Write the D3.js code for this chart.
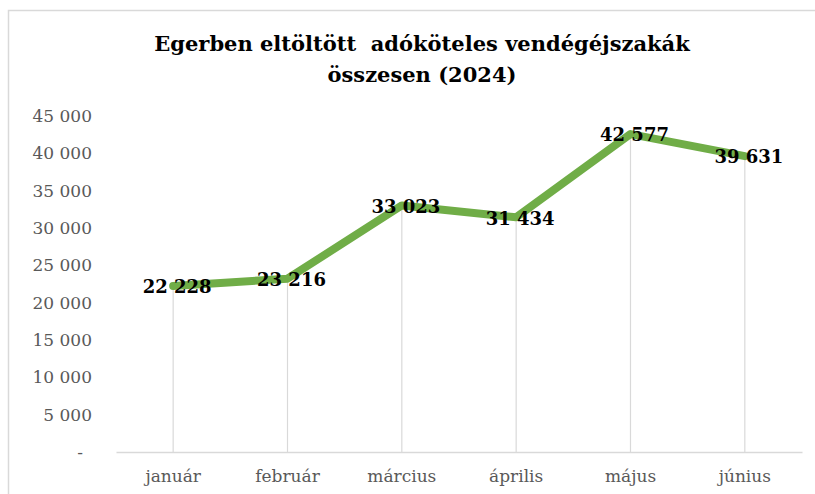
<!DOCTYPE html>
<html>
<head>
<meta charset="utf-8">
<script src="https://cdn.jsdelivr.net/npm/d3@7"></script>
<style>
  body { margin: 0; background: #fff; }
</style>
</head>
<body>
<div id="chart"></div>
<script>
const months = ["január", "február", "március", "április", "május", "június"];
const nights = [22228, 23216, 33023, 31434, 42577, 39631];
const yTicks = [0, 5000, 10000, 15000, 20000, 25000, 30000, 35000, 40000, 45000];
const titleLines = ["Egerben eltöltött  adóköteles vendégéjszakák", "összesen (2024)"];

const width = 815,
  height = 494,
  plotLeft = 116,
  plotRight = 802,
  plotTop = 116,
  plotBottom = 452

const data = months.map((m, i) => ({ month: m, value: nights[i] }));

const svg = d3.select("#chart")
  .append("svg")
  .attr("width", width)
  .attr("height", height);

// chart frame
svg.append("rect")
  .attr("x", 8.5).attr("y", 10.5)
  .attr("width", 810).attr("height", 500)
  .attr("fill", "none")
  .attr("stroke", "#d9d9d9")
  .attr("stroke-width", 1.5);

const x = d3.scaleBand().domain(months).range([plotLeft, plotRight]);
const y = d3.scaleLinear().domain([0, 45000]).range([plotBottom, plotTop]);

const fmt = v => v === 0 ? "-" : d3.format(",")(v).replace(/,/g, " ");

// y axis labels
svg.append("g")
  .attr("font-family", "DejaVu Serif")
  .attr("font-size", 17)
  .attr("fill", "#595959")
  .selectAll("text")
  .data(yTicks)
  .join("text")
  .attr("x", d => d === 0 ? 80 : 92)
  .attr("y", d => y(d))
  .attr("dy", "0.35em")
  .attr("text-anchor", d => d === 0 ? "middle" : "end")
  .text(fmt);

// drop lines from each point down to the axis
svg.append("g")
  .attr("stroke", "#d9d9d9")
  .attr("stroke-width", 1.2)
  .selectAll("line")
  .data(data)
  .join("line")
  .attr("x1", d => x(d.month) + x.bandwidth() / 2)
  .attr("x2", d => x(d.month) + x.bandwidth() / 2)
  .attr("y1", d => y(d.value))
  .attr("y2", plotBottom);

// x axis
const xAxis = svg.append("g")
  .attr("transform", `translate(0,${plotBottom})`)
  .call(d3.axisBottom(x).tickSize(0).tickPadding(18));
xAxis.select(".domain").attr("stroke", "#d9d9d9").attr("stroke-width", 1.5);
xAxis.selectAll("text")
  .attr("font-family", "DejaVu Serif")
  .attr("font-size", 17)
  .attr("fill", "#595959");

// the line
const line = d3.line()
  .x(d => x(d.month) + x.bandwidth() / 2)
  .y(d => y(d.value));

svg.append("path")
  .datum(data)
  .attr("fill", "none")
  .attr("stroke", "#70ad47")
  .attr("stroke-width", 8)
  .attr("stroke-linejoin", "round")
  .attr("stroke-linecap", "round")
  .attr("d", line);

// data labels, centered on the points
svg.append("g")
  .attr("font-family", "DejaVu Serif")
  .attr("font-weight", "bold")
  .attr("font-size", 18)
  .attr("fill", "#000")
  .attr("text-anchor", "middle")
  .selectAll("text")
  .data(data)
  .join("text")
  .attr("x", d => x(d.month) + x.bandwidth() / 2 + 4)
  .attr("y", d => y(d.value) + 1)
  .attr("dy", "0.35em")
  .text(d => fmt(d.value));

// title
svg.append("g")
  .attr("font-family", "DejaVu Serif")
  .attr("font-weight", "bold")
  .attr("font-size", 21)
  .attr("fill", "#000")
  .attr("text-anchor", "middle")
  .selectAll("text")
  .data(titleLines)
  .join("text")
  .attr("x", 422)
  .attr("y", (d, i) => 51 + i * 31)
  .style("white-space", "pre")
  .text(d => d);
</script>
</body>
</html>
